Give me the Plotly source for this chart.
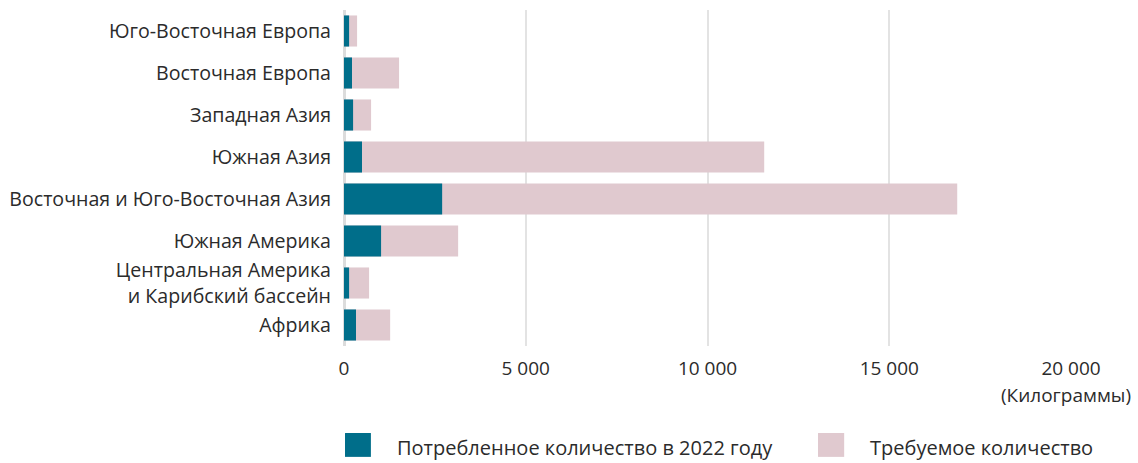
import plotly.graph_objects as go

# Regions, bottom to top as drawn by plotly
regions = [
    "Африка",
    "Центральная Америка<br>и Карибский бассейн",
    "Южная Америка",
    "Восточная и Юго-Восточная Азия",
    "Южная Азия",
    "Западная Азия",
    "Восточная Европа",
    "Юго-Восточная Европа",
]
consumed_2022 = [330, 140, 1020, 2700, 495, 250, 220, 140]
required = [1270, 690, 3140, 16870, 11560, 745, 1515, 360]

teal = "#006E8A"
pink = "#E0C9CF"
txt = "#2b2b2b"
font = "Open Sans"
fs = 19

fig = go.Figure()

# required quantity drawn first, consumed quantity over it
fig.add_trace(go.Bar(y=regions, x=required, orientation="h",
                     marker=dict(color=pink, line=dict(width=0)),
                     name="Требуемое количество", showlegend=False))
fig.add_trace(go.Bar(y=regions, x=consumed_2022, orientation="h",
                     marker=dict(color=teal, line=dict(width=0)),
                     name="Потребленное количество в 2022 году", showlegend=False))

fig.update_layout(
    barmode="overlay",
    bargap=0.26,
    width=1138, height=463,
    margin=dict(l=344, r=67, t=10, b=117),
    plot_bgcolor="white", paper_bgcolor="white",
    font=dict(family=font, size=fs, color=txt),
    separators=", ",
)
fig.update_xaxes(range=[0, 20000], dtick=5000, tickformat=",d",
                 showgrid=True, gridcolor="#e3e3e3", gridwidth=1.5,
                 zeroline=True, zerolinecolor="#dcdcdc", zerolinewidth=2.5,
                 ticks="", ticklabelstandoff=9, tickfont=dict(size=fs, color=txt))
fig.update_yaxes(showgrid=False, ticks="", ticklabelstandoff=12,
                 tickfont=dict(size=19.6, color=txt))

fig.add_annotation(text="(Килограммы)", xref="paper", yref="paper",
                   x=1.085, y=-0.146, xanchor="right", yanchor="middle",
                   showarrow=False, font=dict(size=fs, color=txt))

# legend drawn by hand: square swatches + labels
fig.add_shape(type="rect", xref="paper", yref="paper",
              x0=0.0014, x1=0.037, y0=-0.259, y1=-0.330,
              fillcolor=teal, line=dict(width=0))
fig.add_annotation(text="Потребленное количество в 2022 году", xref="paper", yref="paper",
                   x=0.07, y=-0.301, xanchor="left", yanchor="middle",
                   showarrow=False, font=dict(size=20, color=txt))
fig.add_shape(type="rect", xref="paper", yref="paper",
              x0=0.652, x1=0.688, y0=-0.259, y1=-0.330,
              fillcolor=pink, line=dict(width=0))
fig.add_annotation(text="Требуемое количество", xref="paper", yref="paper",
                   x=0.721, y=-0.301, xanchor="left", yanchor="middle",
                   showarrow=False, font=dict(size=20, color=txt))

fig.write_html("out.html", config={"displayModeBar": False},
               post_script="document.body.style.margin='0';")
